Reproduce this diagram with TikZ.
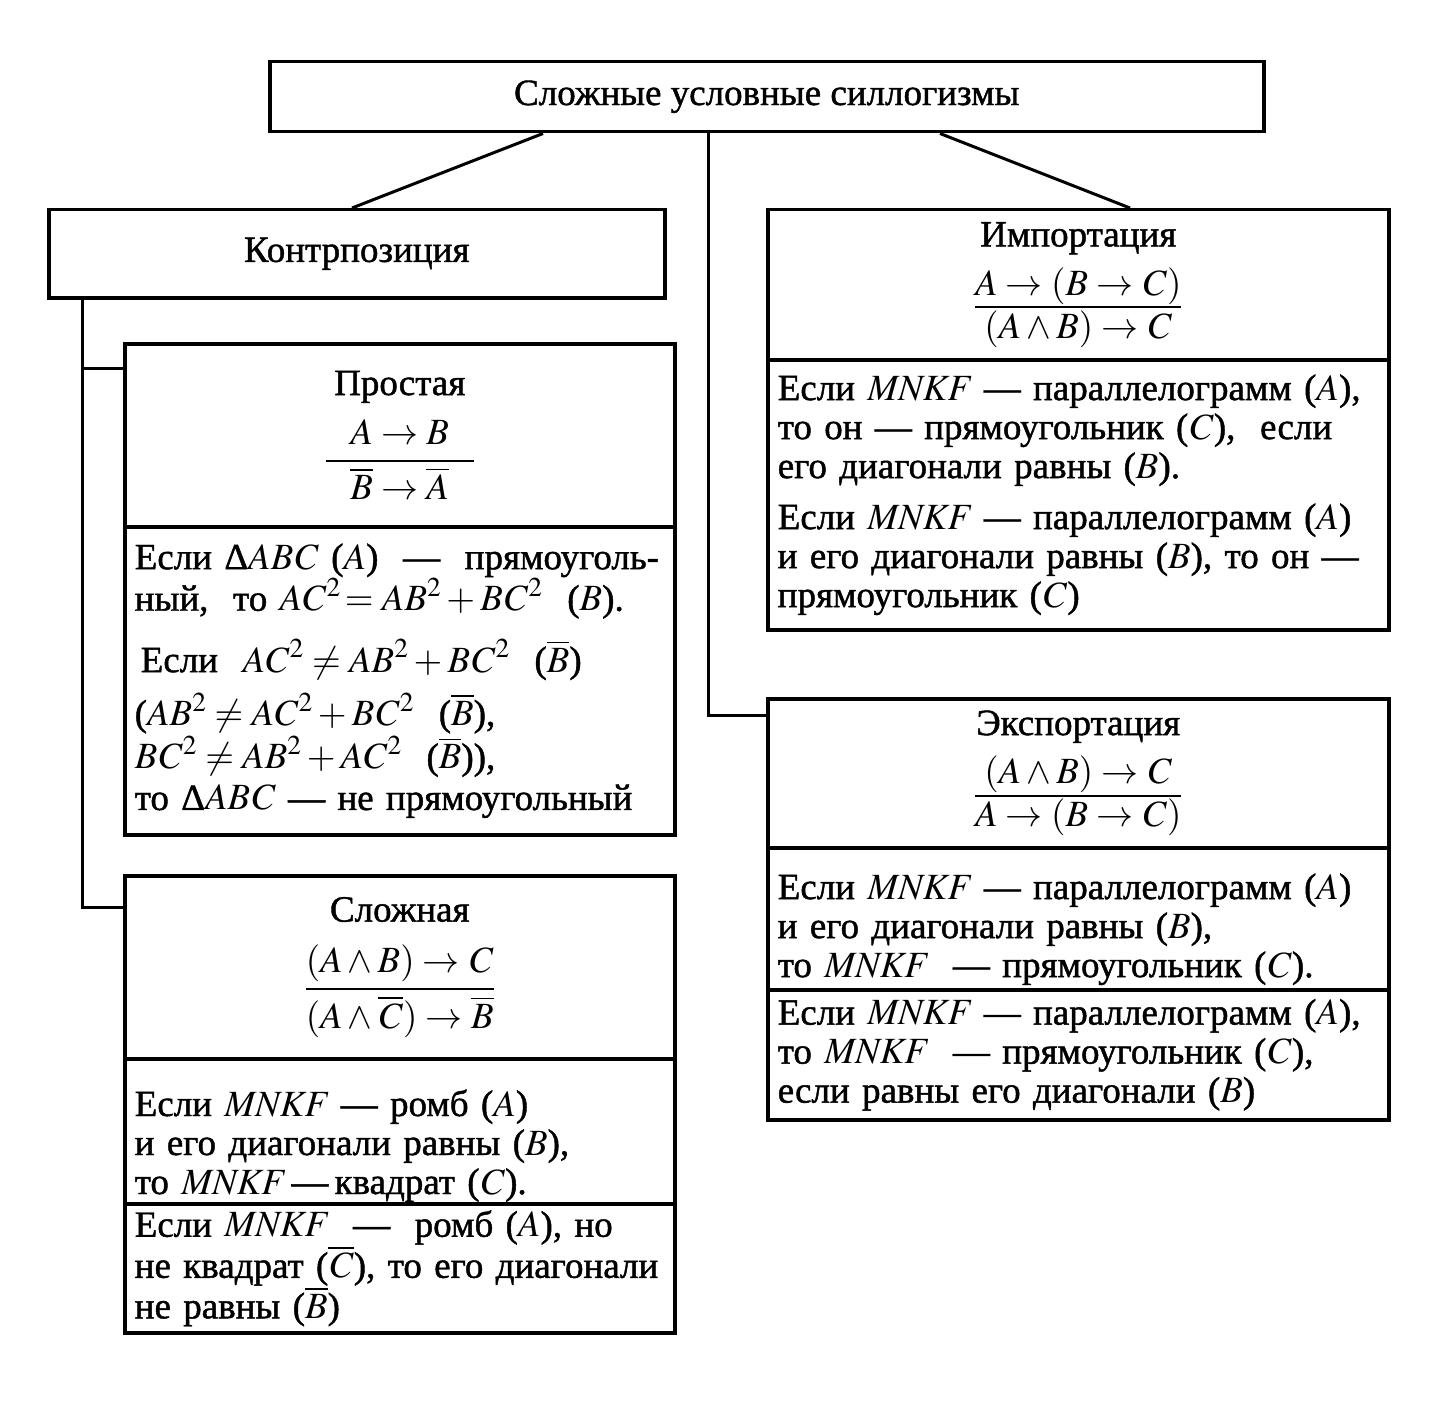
\documentclass[tikz,border=0pt]{standalone}
\usepackage{amsmath}
\usepackage{mathptmx}
\usepackage{fontspec}
\setmainfont{Liberation Serif}[FakeBold=1.2]
\usetikzlibrary{calc}

% fraction of a syllogism: {premise} {conclusion}
\newcommand{\syllfrac}[2]{$\genfrac{}{}{2pt}{1}{\displaystyle #1}{\displaystyle #2}$}
\newcommand{\syllfracd}[2]{$\genfrac{}{}{2pt}{0}{#1}{#2}$}
% letters of statements
\newcommand{\sv}[1]{\mathit{#1}}
\newcommand{\nsv}[1]{\overline{\mathit{#1}}}

\begin{document}
\begin{tikzpicture}[
  x=1pt, y=-1pt,
  every node/.style={font=\fontsize{37}{39}\selectfont},
  box/.style={draw, line width=3.5pt, anchor=north west, inner sep=0pt, align=center},
  lbody/.style={box, align=left, inner xsep=10pt, text width=530pt},
  rbody/.style={box, align=left, inner xsep=10pt, text width=601pt},
  link/.style={line width=3pt},
]
\useasboundingbox (0,0) rectangle (1435,1407);

% Top
\node[box, minimum width=994pt, minimum height=70pt] (sillog) at (268,60)
  {Сложные условные силлогизмы};

% Left branch
\node[box, minimum width=616pt, minimum height=88pt] (kontr) at (47,208)
  {Контрпозиция};

\node[box, minimum width=550pt, minimum height=183pt] (prost) at (123,342)
  {Простая\\[16pt] \syllfracd{\;\;\;\sv{A}\to \sv{B}\;\;\;}{\;\;\;\nsv{B}\to\nsv{A}\;\;\;}};
\node[lbody, minimum height=308pt] (prostbody) at (123,525)
  {Если Δ$\sv{ABC}$ ($\sv{A}$) \ — \ прямоуголь-\\
   ный, \ то $\sv{AC}^2\!=\sv{AB}^2+\sv{BC}^2$ \ ($\sv{B}$).\\[20pt]
   \hspace{6pt}Если \ $\sv{AC}^2\neq \sv{AB}^2+\sv{BC}^2$ \ ($\nsv{B}$)\\[12pt]
   ($\sv{AB}^2\neq \sv{AC}^2+\sv{BC}^2$ \ ($\nsv{B}$),\\[2pt]
   $\sv{BC}^2\neq \sv{AB}^2+\sv{AC}^2$ \ ($\nsv{B}$)),\\[2pt]
   то Δ$\sv{ABC}$ — не прямоугольный};

\node[box, minimum width=550pt, minimum height=183pt] (slozh) at (123,874)
  {Сложная\\[22pt] \syllfracd{(\sv{A}\wedge \sv{B})\to \sv{C}}{(\sv{A}\wedge\nsv{C})\to\nsv{B}}};
\node[lbody, minimum height=145pt] (slozhbodyA) at (123,1057)
  {Если $\sv{MNKF}$ — ромб ($\sv{A}$)\\
   и его диагонали равны ($\sv{B}$),\\
   то $\sv{MNKF}$\,—\,квадрат ($\sv{C}$).\\[-60pt]\mbox{}};
\node[lbody, minimum height=129pt] (slozhbodyB) at (123,1202)
  {Если $\sv{MNKF}$ \ — \ ромб ($\sv{A}$), но\\
   не квадрат ($\nsv{C}$), то его диагонали\\
   не равны ($\nsv{B}$)};

% Right branch
\node[box, minimum width=621pt, minimum height=150pt] (imp) at (766,208)
  {Импортация\\[12pt] \syllfrac{\sv{A}\to(\sv{B}\to \sv{C})}{(\sv{A}\wedge \sv{B})\to \sv{C}}};
\node[rbody, minimum height=270pt] (impbody) at (766,358)
  {Если $\sv{MNKF}$ — параллелограмм ($\sv{A}$),\\
   то он — прямоугольник ($\sv{C}$), \ если\\
   его диагонали равны ($\sv{B}$).\\[12pt]
   Если $\sv{MNKF}$ — параллелограмм ($\sv{A}$)\\
   и его диагонали равны ($\sv{B}$), то он —\\
   прямоугольник ($\sv{C}$)};

\node[box, minimum width=621pt, minimum height=149pt] (exp) at (766,697)
  {Экспортация\\[12pt] \syllfrac{(\sv{A}\wedge \sv{B})\to \sv{C}}{\sv{A}\to(\sv{B}\to \sv{C})}};
\node[rbody, minimum height=142pt] (expbodyA) at (766,846)
  {Если $\sv{MNKF}$ — параллелограмм ($\sv{A}$)\\
   и его диагонали равны ($\sv{B}$),\\
   то $\sv{MNKF}$ \ — прямоугольник ($\sv{C}$).\\[-52pt]\mbox{}};
\node[rbody, minimum height=130pt] (expbodyB) at (766,988)
  {Если $\sv{MNKF}$ — параллелограмм ($\sv{A}$),\\
   то $\sv{MNKF}$ \ — прямоугольник ($\sv{C}$),\\
   если равны его диагонали ($\sv{B}$)};

% Connectors
\draw[link] ($(sillog.south west)+(275,0)$) -- ($(kontr.north west)+(305,0)$);
\draw[link] ($(sillog.south west)+(672,0)$) -- ($(imp.north west)+(364,0)$);
\draw[link] ($(sillog.south west)+(440,0)$) |- ($(exp.north west)+(0,18)$);
\draw[link] ($(kontr.south west)+(35,0)$) |- ($(prost.north west)+(0,26)$);
\draw[link] ($(kontr.south west)+(35,0)$) |- ($(slozh.north west)+(0,33)$);

\end{tikzpicture}
\end{document}
